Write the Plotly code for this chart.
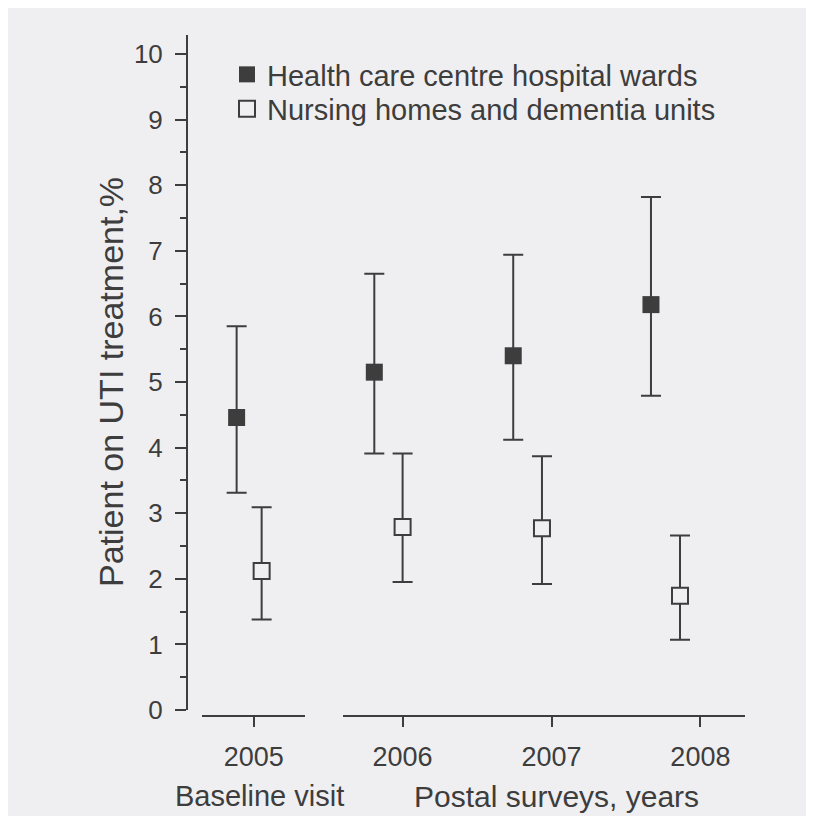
import plotly.graph_objects as go

years = [2005, 2006, 2007, 2008]
tick_labels = ["2005", "2006", "2007", "2008"]

# x positions of markers (in year units)
health_x = [2004.885, 2005.81, 2006.743, 2007.668]
nursing_x = [2005.053, 2006.0, 2006.936, 2007.863]

health_val = [4.46, 5.15, 5.40, 6.18]
health_hi = [5.85, 6.65, 6.94, 7.82]
health_lo = [3.31, 3.91, 4.12, 4.79]

nursing_val = [2.12, 2.79, 2.77, 1.74]
nursing_hi = [3.09, 3.91, 3.87, 2.66]
nursing_lo = [1.38, 1.95, 1.92, 1.07]

series_names = ["Health care centre hospital wards", "Nursing homes and dementia units"]

INK = "#3d3d3d"
BG = "#efeff1"
FONT = "Liberation Sans, Arial, sans-serif"

# the page adds an 8 px margin; the figure is sized so that reference pixels map directly
W, H = 806, 808
ML, MR, MT, MB = 92, 40, 22, 100
PW, PH = W - ML - MR, H - MT - MB
OFF = 8


def px_x(p):
    return (p - OFF - ML) / PW


def px_y(p):
    return (H - MB - (p - OFF)) / PH


fig = go.Figure()


def add_series(xs, vals, his, los, name, filled, show, xa, lg):
    fig.add_trace(go.Scatter(
        x=xs, y=vals, mode="markers", name=name, legendgroup=name, showlegend=show,
        legend=lg, xaxis=xa, yaxis="y",
        marker=dict(symbol="square", size=17 if filled else 16,
                    color=INK if filled else BG,
                    line=dict(color=INK, width=0 if filled else 2)),
        error_y=dict(type="data", symmetric=False,
                     array=[h - v for h, v in zip(his, vals)],
                     arrayminus=[v - l for v, l in zip(vals, los)],
                     color=INK, thickness=2, width=10),
    ))


# 2005 (baseline visit) on the first x axis, 2006-2008 on the second
add_series(health_x[:1], health_val[:1], health_hi[:1], health_lo[:1], series_names[0], True, True, "x", "legend")
add_series(nursing_x[:1], nursing_val[:1], nursing_hi[:1], nursing_lo[:1], series_names[1], False, True, "x", "legend2")
add_series(health_x[1:], health_val[1:], health_hi[1:], health_lo[1:], series_names[0], True, False, "x2", "legend")
add_series(nursing_x[1:], nursing_val[1:], nursing_hi[1:], nursing_lo[1:], series_names[1], False, False, "x2", "legend2")

ppy = 148.9  # pixels per year
x1_lo, x1_hi = 201.7, 305.0
x2_lo, x2_hi = 343.0, 745.0
x1_range = [2005 - (253.75 - x1_lo) / ppy, 2005 + (x1_hi - 253.75) / ppy]
x2_range = [2006 - (402.6 - x2_lo) / ppy, 2008 + (x2_hi - 700.4) / ppy]

xcommon = dict(showline=True, linecolor=INK, linewidth=2, ticks="outside", ticklen=10,
               tickwidth=2, tickcolor=INK, showgrid=False, zeroline=False,
               tickfont=dict(family=FONT, size=27, color=INK), anchor="free", position=0,
               ticklabelstandoff=7)

legend_common = dict(xanchor="left", yanchor="top", bgcolor="rgba(0,0,0,0)",
                     font=dict(family=FONT, size=29, color=INK), itemwidth=30,
                     borderwidth=0)

fig.update_layout(
    width=W, height=H,
    margin=dict(l=ML, r=MR, t=MT, b=MB, autoexpand=False),
    paper_bgcolor=BG, plot_bgcolor=BG,
    font=dict(family=FONT, color=INK),
    xaxis=dict(domain=[px_x(x1_lo), px_x(x1_hi)], range=x1_range,
               tickvals=years[:1], ticktext=tick_labels[:1], **xcommon),
    xaxis2=dict(domain=[px_x(x2_lo), px_x(x2_hi)], range=x2_range,
                tickvals=years[1:], ticktext=tick_labels[1:], **xcommon),
    yaxis=dict(domain=[px_y(710), px_y(35)], range=[0, 10.29],
               anchor="free", position=px_x(187),
               showline=True, linecolor=INK, linewidth=2,
               ticks="outside", ticklen=11, tickwidth=2, tickcolor=INK,
               tickvals=list(range(0, 11)), showgrid=False, zeroline=False,
               tickfont=dict(family=FONT, size=26, color=INK), ticklabelstandoff=7,
               minor=dict(dtick=0.5, ticks="outside", ticklen=6, tickwidth=2, tickcolor=INK,
                          showgrid=False)),
    legend=dict(x=px_x(227), y=px_y(49), **legend_common),
    legend2=dict(x=px_x(227), y=px_y(83.5), **legend_common),
    showlegend=True,
)

fig.add_annotation(text="Patient on UTI treatment,%", textangle=-90,
                   xref="paper", yref="paper", x=px_x(111), y=px_y(382),
                   xanchor="center", yanchor="middle",
                   showarrow=False, font=dict(family=FONT, size=34, color=INK))
fig.add_annotation(text="Baseline visit", xref="paper", yref="paper",
                   x=px_x(259), y=px_y(796), xanchor="center", yanchor="middle",
                   showarrow=False, font=dict(family=FONT, size=29, color=INK))
fig.add_annotation(text="Postal surveys, years", xref="paper", yref="paper",
                   x=px_x(556), y=px_y(796), xanchor="center", yanchor="middle",
                   showarrow=False, font=dict(family=FONT, size=30, color=INK))

fig.write_html("out.html")
